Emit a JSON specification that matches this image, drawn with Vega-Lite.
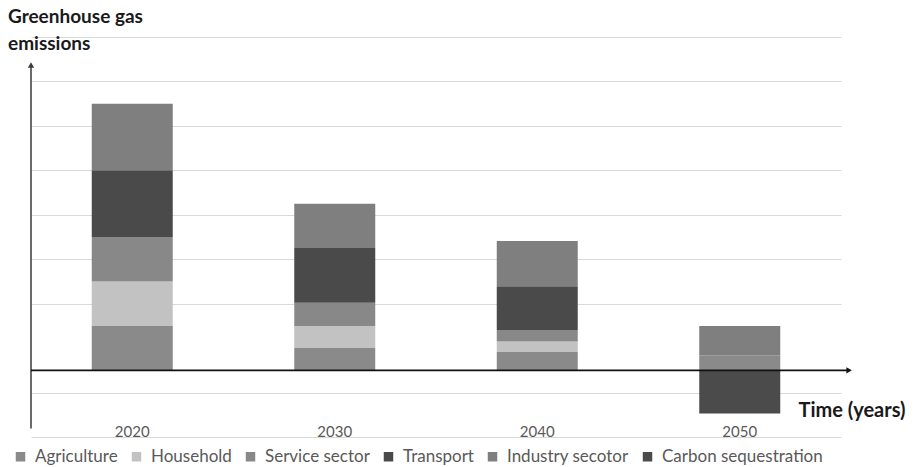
{
  "$schema": "https://vega.github.io/schema/vega-lite/v6.json",
  "width": 810,
  "height": 400,
  "autosize": {"type": "none"},
  "padding": {"left": 31, "top": 37, "right": 78, "bottom": 30},
  "background": "white",
  "config": {"view": {"stroke": null}, "font": "Lato"},
  "title": {
    "text": ["Greenhouse gas", "emissions"],
    "anchor": "start",
    "frame": "group",
    "dx": -23,
    "offset": -32,
    "baseline": "alphabetic",
    "lineHeight": 27,
    "fontSize": 19,
    "fontWeight": "bold",
    "color": "#1a1a1a",
    "font": "Lato"
  },
  "layer": [
    {
      "data": {
        "values": [
          {"year": "2020", "sector": "Agriculture", "value": 1.0},
          {"year": "2020", "sector": "Household", "value": 1.0},
          {"year": "2020", "sector": "Service sector", "value": 1.0},
          {"year": "2020", "sector": "Transport", "value": 1.5},
          {"year": "2020", "sector": "Industry secotor", "value": 1.5},
          {"year": "2030", "sector": "Agriculture", "value": 0.5},
          {"year": "2030", "sector": "Household", "value": 0.5},
          {"year": "2030", "sector": "Service sector", "value": 0.52},
          {"year": "2030", "sector": "Transport", "value": 1.23},
          {"year": "2030", "sector": "Industry secotor", "value": 1.0},
          {"year": "2040", "sector": "Agriculture", "value": 0.41},
          {"year": "2040", "sector": "Household", "value": 0.24},
          {"year": "2040", "sector": "Service sector", "value": 0.26},
          {"year": "2040", "sector": "Transport", "value": 0.98},
          {"year": "2040", "sector": "Industry secotor", "value": 1.02},
          {"year": "2050", "sector": "Agriculture", "value": 0.34},
          {"year": "2050", "sector": "Industry secotor", "value": 0.66},
          {"year": "2050", "sector": "Carbon sequestration", "value": -0.97}
        ]
      },
      "transform": [
        {"calculate": "indexof(['Agriculture','Household','Service sector','Transport','Industry secotor','Carbon sequestration'], datum.sector)", "as": "k"}
      ],
      "mark": {"type": "bar"},
      "encoding": {
        "x": {
          "field": "year",
          "type": "nominal",
          "scale": {"paddingInner": 0.6, "paddingOuter": 0.3},
          "axis": {
            "labelAngle": 0,
            "ticks": false,
            "labelPadding": -1,
            "labelBaseline": "alphabetic",
            "labelFontSize": 15,
            "labelColor": "#595959",
            "domainColor": "#d9d9d9",
            "domainWidth": 1,
            "title": "Time (years)",
            "titleFontSize": 20,
            "titleFontWeight": "bold",
            "titleColor": "#1a1a1a",
            "titleAlign": "right",
            "titleBaseline": "alphabetic",
            "titleX": 874,
            "titleY": -21
          }
        },
        "y": {
          "field": "value",
          "type": "quantitative",
          "stack": "zero",
          "scale": {"domain": [-1.5, 7.5], "nice": false, "zero": false},
          "axis": {
            "values": [-0.5, 1.5, 2.5, 3.5, 4.5, 5.5, 6.5, 7.5],
            "grid": true,
            "gridColor": "#d9d9d9",
            "gridWidth": 1,
            "labels": false,
            "ticks": false,
            "domain": false,
            "title": null
          }
        },
        "order": {"field": "k", "type": "quantitative", "sort": "ascending"},
        "color": {
          "field": "sector",
          "type": "nominal",
          "sort": ["Agriculture", "Household", "Service sector", "Transport", "Industry secotor", "Carbon sequestration"],
          "scale": {
            "domain": ["Agriculture", "Household", "Service sector", "Transport", "Industry secotor", "Carbon sequestration"],
            "range": ["#8a8a8a", "#c2c2c2", "#888888", "#4a4a4a", "#7f7f7f", "#4b4b4b"]
          },
          "legend": {
            "orient": "none",
            "legendX": -19,
            "legendY": 411,
            "direction": "horizontal",
            "title": null,
            "symbolType": "square",
            "symbolSize": 90,
            "symbolStrokeWidth": 0,
            "labelFontSize": 17,
            "labelLimit": 400,
            "labelColor": "#595959",
            "labelOffset": 6,
            "columnPadding": 10
          }
        }
      }
    },
    {
      "data": {"values": [{}]},
      "mark": {"type": "rule", "color": "#3a3a3a", "strokeWidth": 1.5},
      "encoding": {
        "x": {"datum": 0, "type": "quantitative", "scale": {"domain": [0, 1]}, "axis": null},
        "y": {"datum": -1.31, "type": "quantitative"},
        "y2": {"datum": 6.85}
      }
    },
    {
      "data": {"values": [{}]},
      "mark": {"type": "rule", "color": "#111111", "strokeWidth": 1.6},
      "encoding": {
        "x": {"datum": 0, "type": "quantitative", "scale": {"domain": [0, 1]}, "axis": null},
        "x2": {"datum": 1.008},
        "y": {"datum": 0, "type": "quantitative"}
      }
    },
    {
      "data": {"values": [{}]},
      "mark": {"type": "point", "shape": "triangle-right", "filled": true, "color": "#111111", "size": 40, "opacity": 1},
      "encoding": {
        "x": {"datum": 1.01, "type": "quantitative", "scale": {"domain": [0, 1]}, "axis": null},
        "y": {"datum": 0, "type": "quantitative"}
      }
    },
    {
      "data": {"values": [{}]},
      "mark": {"type": "point", "shape": "triangle-up", "filled": true, "color": "#3a3a3a", "size": 40, "opacity": 1},
      "encoding": {
        "x": {"datum": 0, "type": "quantitative", "scale": {"domain": [0, 1]}, "axis": null},
        "y": {"datum": 6.87, "type": "quantitative"}
      }
    }
  ],
  "resolve": {"scale": {"x": "independent"}}
}
